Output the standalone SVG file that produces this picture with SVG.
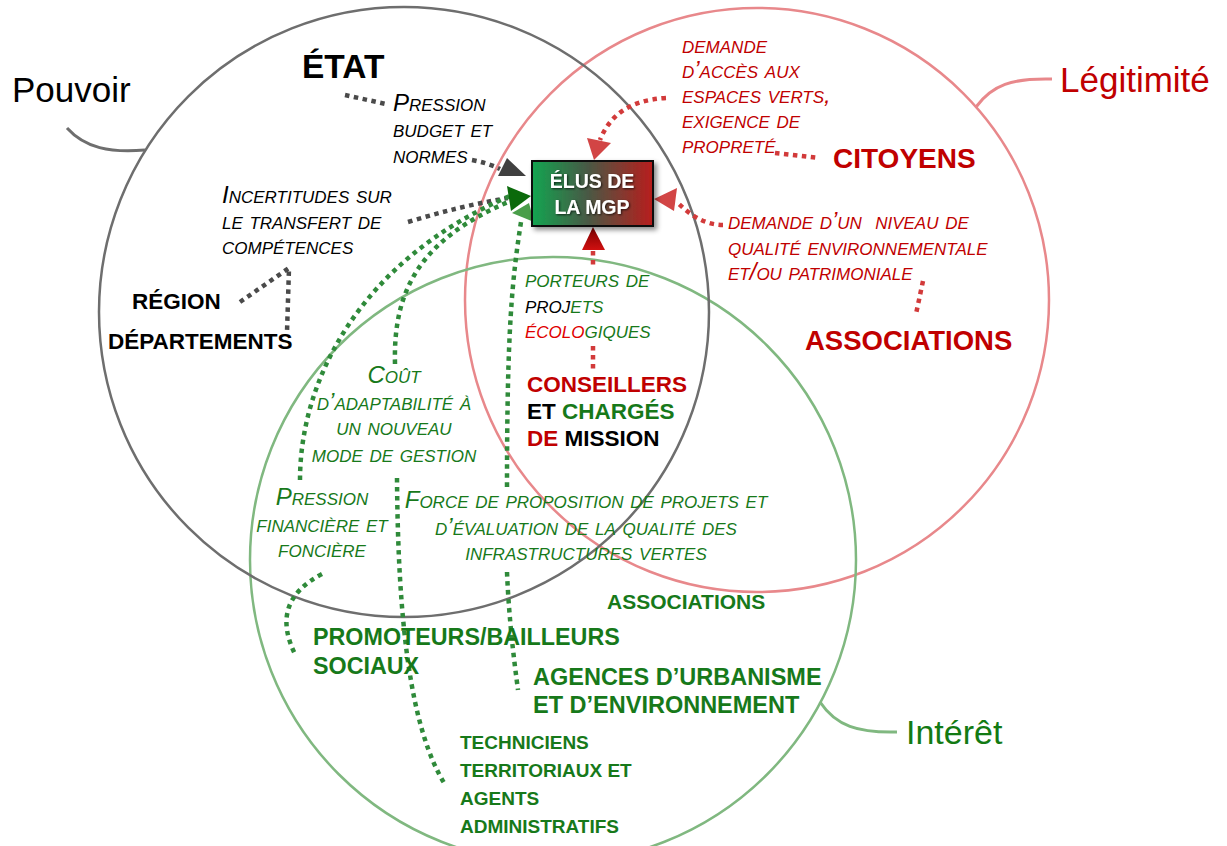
<svg xmlns="http://www.w3.org/2000/svg" width="1227" height="846" viewBox="0 0 1227 846">
<style>
text{font-family:"Liberation Sans",Arial,sans-serif}
.circ{fill:none;stroke-width:2.5}
.hook{fill:none;stroke-width:3}
.lbl{font-size:24px;font-style:italic;font-variant:small-caps;white-space:pre}
.big{font-weight:bold}
.g{fill:#17791a}
.r{fill:#c00000}
.rb{fill:#e00000}
.k{fill:#000}
.dot{fill:none;stroke-width:4.5;stroke-dasharray:4.5 4.5}
.dk{stroke:#4a4a4a}
.dg{stroke:#2f8a3a}
.dr{stroke:#d23a3a}
</style>
<defs>
<linearGradient id="boxg" x1="0" y1="0" x2="1" y2="0">
<stop offset="0" stop-color="#13a551"/>
<stop offset="0.45" stop-color="#475a45"/>
<stop offset="1" stop-color="#b81d1d"/>
</linearGradient>
<linearGradient id="drg" x1="0" y1="0" x2="0" y2="1">
<stop offset="0" stop-color="#7a0000"/>
<stop offset="1" stop-color="#d01010"/>
</linearGradient>
<filter id="sh" x="-20%" y="-20%" width="150%" height="160%">
<feDropShadow dx="3" dy="3" stdDeviation="2.5" flood-color="#000" flood-opacity="0.45"/>
</filter>
<filter id="tsh" x="-20%" y="-30%" width="140%" height="160%">
<feDropShadow dx="1" dy="1" stdDeviation="1" flood-color="#000" flood-opacity="0.7"/>
</filter>
</defs>
<rect width="1227" height="846" fill="#fff"/>

<g id="circles">
<circle class="circ" cx="757" cy="300" r="292" stroke="#e8888b"/>
<circle class="circ" cx="553" cy="560" r="303" stroke="#80b880"/>
<circle class="circ" cx="404" cy="312" r="305" stroke="#6e6e6e"/>
<path class="hook" d="M67,128 C85,148 110,153 145,150" stroke="#6e6e6e"/>
<path class="hook" d="M976,107 C992,85 1012,78 1052,79" stroke="#e8888b"/>
<path class="hook" d="M820,702 C836,726 858,733 897,732" stroke="#80b880"/>
</g>

<g id="set-labels">
<text x="12" y="102" font-size="35" class="k">Pouvoir</text>
<text x="1060" y="92" font-size="35" class="r">Légitimité</text>
<text x="906" y="744" font-size="34" fill="#137a13">Intérêt</text>
</g>

<g id="connectors">
<path class="dot dk" d="M345,95 L386,104"/>
<path class="dot dk" d="M472,160 Q488,163 500,169"/>
<path class="dot dk" d="M408,222 Q460,206 508,198"/>
<path class="dot dk" d="M240,302 L289,268 L287,332"/>
<path class="dot dg" d="M300,480 C300,380 360,260 510,196"/>
<path class="dot dg" d="M395,364 C393,290 420,240 508,202"/>
<path class="dot dg" d="M507,487 C507,330 512,280 521,222"/>
<path class="dot dg" d="M507,572 C509,620 514,660 518,690"/>
<path class="dot dg" d="M397,478 C398,620 410,730 446,786"/>
<path class="dot dg" d="M322,574 Q268,602 296,656"/>
<path class="dot dr" d="M666,98 C630,100 610,115 600,140"/>
<path class="dot dr" d="M775,153 L819,158"/>
<path class="dot dr" d="M723,225 C705,225 690,215 678,203"/>
<path class="dot dr" d="M923,281 L916,314"/>
<path class="dot dr" d="M593,251 L593,268"/>
<path class="dot dr" d="M593,346 L593,370"/>
<polygon points="498,176 507,158 526,176" fill="#404040"/>
<polygon points="512,213 529,203 534,222" fill="#4a9e4a"/>
<polygon points="507,186 531,196 511,211" fill="#0b6a0b"/>
<polygon points="587,138 611,143 594,160" fill="#d24545"/>
<polygon points="654,199 677,188 674,211" fill="#d24545"/>
<polygon points="582,250 593,227 605,250" fill="url(#drg)"/>
</g>

<g id="elus">
<rect x="532" y="161" width="121" height="65" fill="url(#boxg)" stroke="#111" stroke-width="2" filter="url(#sh)"/>
<g filter="url(#tsh)" fill="#fff" font-weight="bold" font-size="19.5" text-anchor="middle">
<text x="592" y="188">ÉLUS DE</text>
<text x="592" y="214">LA MGP</text>
</g>
</g>

<g id="etat"><text x="302" y="78" font-size="33.5" class="big k">ÉTAT</text></g>
<g id="pression-budget" class="lbl k">
<text x="393" y="111">Pression</text>
<text x="393" y="137">budget et</text>
<text x="393" y="163">normes</text>
</g>
<g id="incertitudes" class="lbl k">
<text x="222" y="203">Incertitudes sur</text>
<text x="222" y="229">le transfert de</text>
<text x="222" y="254">compétences</text>
</g>
<g id="region"><text x="132" y="309" font-size="22.5" class="big k">RÉGION</text></g>
<g id="departements"><text x="108" y="349" font-size="22.5" class="big k">DÉPARTEMENTS</text></g>

<g id="demande-acces" class="lbl r">
<text x="682" y="53">demande</text>
<text x="682" y="78">d’accès aux</text>
<text x="682" y="103">espaces verts,</text>
<text x="682" y="128">exigence de</text>
<text x="682" y="153">propreté</text>
</g>
<g id="citoyens"><text x="833" y="168" font-size="28" class="big r">CITOYENS</text></g>
<g id="demande-niveau" class="lbl r">
<text x="728" y="229" xml:space="preserve">demande d’un  niveau de</text>
<text x="728" y="255">qualité environnementale</text>
<text x="728" y="280">et/ou patrimoniale</text>
</g>
<g id="associations-red"><text x="805" y="350" font-size="27.5" class="big r">ASSOCIATIONS</text></g>

<g id="porteurs" class="lbl">
<text x="525" y="287" class="g">porteurs de</text>
<text x="525" y="313"><tspan class="k">proj</tspan><tspan class="g">ets</tspan></text>
<text x="525" y="338"><tspan class="rb">écolo</tspan><tspan class="g">giques</tspan></text>
</g>
<g id="conseillers" font-size="22.5" class="big">
<text x="527" y="392" class="r">CONSEILLERS</text>
<text x="527" y="419"><tspan class="k">ET </tspan><tspan class="g">CHARGÉS</tspan></text>
<text x="527" y="446"><tspan class="r">DE </tspan><tspan class="k">MISSION</tspan></text>
</g>

<g id="cout" class="lbl g" text-anchor="middle">
<text x="394" y="383">Coût</text>
<text x="394" y="410">d’adaptabilité à</text>
<text x="394" y="435">un nouveau</text>
<text x="394" y="462">mode de gestion</text>
</g>
<g id="pression-financiere" class="lbl g" text-anchor="middle">
<text x="322" y="505">Pression</text>
<text x="322" y="532">financière et</text>
<text x="322" y="557">foncière</text>
</g>
<g id="force" class="lbl g" text-anchor="middle">
<text x="586" y="508">Force de proposition de projets et</text>
<text x="586" y="535">d’évaluation de la qualité des</text>
<text x="586" y="560">infrastructures vertes</text>
</g>

<g id="associations-green"><text x="607" y="609" font-size="21" class="big g">ASSOCIATIONS</text></g>
<g id="promoteurs" font-size="23.3" class="big g">
<text x="313" y="645">PROMOTEURS/BAILLEURS</text>
<text x="313" y="674">SOCIAUX</text>
</g>
<g id="agences" font-size="23.5" class="big g">
<text x="533" y="685">AGENCES D’URBANISME</text>
<text x="533" y="713">ET D’ENVIRONNEMENT</text>
</g>
<g id="techniciens" font-size="19" class="big g">
<text x="460" y="749">TECHNICIENS</text>
<text x="460" y="777">TERRITORIAUX ET</text>
<text x="460" y="805">AGENTS</text>
<text x="460" y="833">ADMINISTRATIFS</text>
</g>
</svg>
